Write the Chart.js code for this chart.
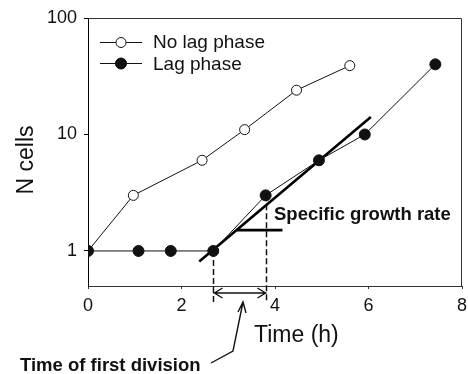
<!DOCTYPE html>
<html lang="en">
<head>
    <meta charset="UTF-8">
    <title>Lag phase growth</title>
    <style>
        html, body { margin: 0; padding: 0; background: #fff; }
        #wrap { width: 468px; height: 374px; }
    </style>
    <script src="https://cdn.jsdelivr.net/npm/chart.js"></script>
</head>
<body>
    <div id="wrap"><canvas id="growthChart" width="468" height="374"></canvas></div>

    <script>
        // Cell counts over time, with and without a lag phase
        const noLagTime = [0, 0.97, 2.44, 3.35, 4.46, 5.6];
        const noLagCells = [1, 3, 6, 11, 24, 39];
        const lagTime = [0, 1.08, 1.77, 2.68, 3.8, 4.94, 5.92, 7.43];
        const lagCells = [1, 1, 1, 1, 3, 6, 10, 40];

        // Tangent for the specific growth rate and its horizontal reference
        const rateLineTime = [2.38, 6.05];
        const rateLineCells = [0.81, 14.1];
        const rateBaseTime = [3.18, 4.16];
        const rateBaseCells = [1.51, 1.51];

        // First division interval (start and end of the arrow)
        const divisionTime = [2.68, 3.8];
        const divisionCells = [1, 3];

        const xTicks = [0, 2, 4, 6, 8];
        const yTicks = [1, 10, 100];

        const FONT = '"Liberation Sans", Arial, sans-serif';

        function pts(xs, ys) {
            return xs.map((x, i) => ({ x: x, y: ys[i] }));
        }

        // Extra drawing: frame, legend, labels and the division arrow
        const extras = {
            id: 'extras',
            afterDatasetsDraw(chart) {
                const ctx = chart.ctx;
                const a = chart.chartArea;
                const xs = chart.scales.x;
                const ys = chart.scales.y;
                ctx.save();

                // frame on top and right
                ctx.strokeStyle = '#333';
                ctx.lineWidth = 1;
                ctx.beginPath();
                ctx.moveTo(a.left, a.top + 0.5);
                ctx.lineTo(a.right - 0.5, a.top + 0.5);
                ctx.lineTo(a.right - 0.5, a.bottom);
                ctx.stroke();

                // dashed drop lines
                const arrowY = a.bottom + 7;
                const x1 = Math.round(xs.getPixelForValue(divisionTime[0])) + 0.5;
                const x2 = Math.round(xs.getPixelForValue(divisionTime[1])) + 0.5;
                ctx.strokeStyle = '#111';
                ctx.lineWidth = 1.5;
                ctx.setLineDash([6, 3]);
                ctx.beginPath();
                ctx.moveTo(x1, ys.getPixelForValue(divisionCells[0]));
                ctx.lineTo(x1, a.bottom + 16);
                ctx.moveTo(x2, ys.getPixelForValue(divisionCells[1]));
                ctx.lineTo(x2, a.bottom + 16);
                ctx.stroke();
                ctx.setLineDash([]);

                // double-headed arrow
                ctx.lineWidth = 1.4;
                ctx.beginPath();
                ctx.moveTo(x1, arrowY);
                ctx.lineTo(x2, arrowY);
                ctx.moveTo(x1 + 9, arrowY - 5);
                ctx.lineTo(x1 + 1, arrowY);
                ctx.lineTo(x1 + 9, arrowY + 5);
                ctx.moveTo(x2 - 9, arrowY - 5);
                ctx.lineTo(x2 - 1, arrowY);
                ctx.lineTo(x2 - 9, arrowY + 5);
                ctx.stroke();

                // leader from the label up to the arrow
                const tipX = (x1 + x2) / 2 + 3;
                const tipY = arrowY + 9;
                ctx.beginPath();
                ctx.moveTo(211, 363);
                ctx.lineTo(233, 351);
                ctx.lineTo(tipX, tipY);
                ctx.moveTo(tipX - 5, tipY + 10);
                ctx.lineTo(tipX, tipY);
                ctx.lineTo(tipX + 3, tipY + 11);
                ctx.stroke();

                // legend
                const sets = chart.data.datasets;
                const rows = [[0, 42, 48], [1, 63, 70]];
                ctx.font = '19px ' + FONT;
                ctx.textAlign = 'left';
                ctx.textBaseline = 'alphabetic';
                rows.forEach(([di, y, base]) => {
                    const ds = sets[di];
                    ctx.strokeStyle = '#111';
                    ctx.lineWidth = 1;
                    ctx.beginPath();
                    ctx.moveTo(100, y + 0.5);
                    ctx.lineTo(142, y + 0.5);
                    ctx.stroke();
                    ctx.beginPath();
                    ctx.arc(121, y + 0.5, ds.pointRadius, 0, Math.PI * 2);
                    ctx.fillStyle = ds.pointBackgroundColor;
                    ctx.fill();
                    ctx.stroke();
                    ctx.fillStyle = '#111';
                    ctx.fillText(ds.label, 153, base);
                });

                // axis titles
                ctx.fillStyle = '#111';
                ctx.font = '23px ' + FONT;
                ctx.fillText('Time (h)', 254, 342);
                ctx.save();
                ctx.translate(33, 160);
                ctx.rotate(-Math.PI / 2);
                ctx.textAlign = 'center';
                ctx.fillText('N cells', 0, 0);
                ctx.restore();

                // annotation labels
                ctx.font = 'bold 18.5px ' + FONT;
                ctx.fillText('Specific growth rate', 274, 220);
                ctx.fillText('Time of first division', 20, 371);

                ctx.restore();
            }
        };

        const ctx = document.getElementById('growthChart').getContext('2d');
        const growthChart = new Chart(ctx, {
            type: 'line',
            data: {
                datasets: [
                    {
                        label: 'No lag phase',
                        data: pts(noLagTime, noLagCells),
                        borderColor: '#111',
                        borderWidth: 1,
                        pointRadius: 5,
                        pointBorderWidth: 1,
                        pointBackgroundColor: '#fff',
                        pointBorderColor: '#111',
                        order: 2
                    },
                    {
                        label: 'Lag phase',
                        data: pts(lagTime, lagCells),
                        borderColor: '#111',
                        borderWidth: 1,
                        pointRadius: 5.5,
                        pointBorderWidth: 1,
                        pointBackgroundColor: '#111',
                        pointBorderColor: '#111',
                        order: 1
                    },
                    {
                        label: 'rate',
                        data: pts(rateLineTime, rateLineCells),
                        borderColor: '#000',
                        borderWidth: 2.6,
                        pointRadius: 0,
                        order: 3
                    },
                    {
                        label: 'rate base',
                        data: pts(rateBaseTime, rateBaseCells),
                        borderColor: '#000',
                        borderWidth: 2.6,
                        pointRadius: 0,
                        order: 3
                    }
                ]
            },
            options: {
                responsive: false,
                animation: false,
                layout: { autoPadding: false, padding: { left: 0, top: 18, right: 6, bottom: 0 } },
                plugins: {
                    legend: { display: false },
                    tooltip: { enabled: false }
                },
                scales: {
                    x: {
                        type: 'linear',
                        min: 0,
                        max: 8,
                        afterBuildTicks: s => { s.ticks = xTicks.map(v => ({ value: v })); },
                        afterFit: s => { s.height = 88; s.paddingLeft = 0; s.paddingRight = 0; },
                        border: { color: '#333', width: 1 },
                        grid: { drawOnChartArea: false, tickLength: 3, color: '#333' },
                        ticks: {
                            color: '#111',
                            padding: 6,
                            maxRotation: 0,
                            font: { family: FONT, size: 18 }
                        }
                    },
                    y: {
                        type: 'logarithmic',
                        min: 0.5,
                        max: 100,
                        afterBuildTicks: s => { s.ticks = yTicks.map(v => ({ value: v })); },
                        afterFit: s => { s.width = 88; s.paddingTop = 0; s.paddingBottom = 0; },
                        border: { color: '#000', width: 1 },
                        grid: { drawOnChartArea: false, tickLength: 4, color: '#000' },
                        ticks: {
                            color: '#111',
                            padding: 7,
                            font: { family: FONT, size: 18 },
                            callback: v => String(v)
                        }
                    }
                }
            },
            plugins: [extras]
        });
    </script>
</body>
</html>
